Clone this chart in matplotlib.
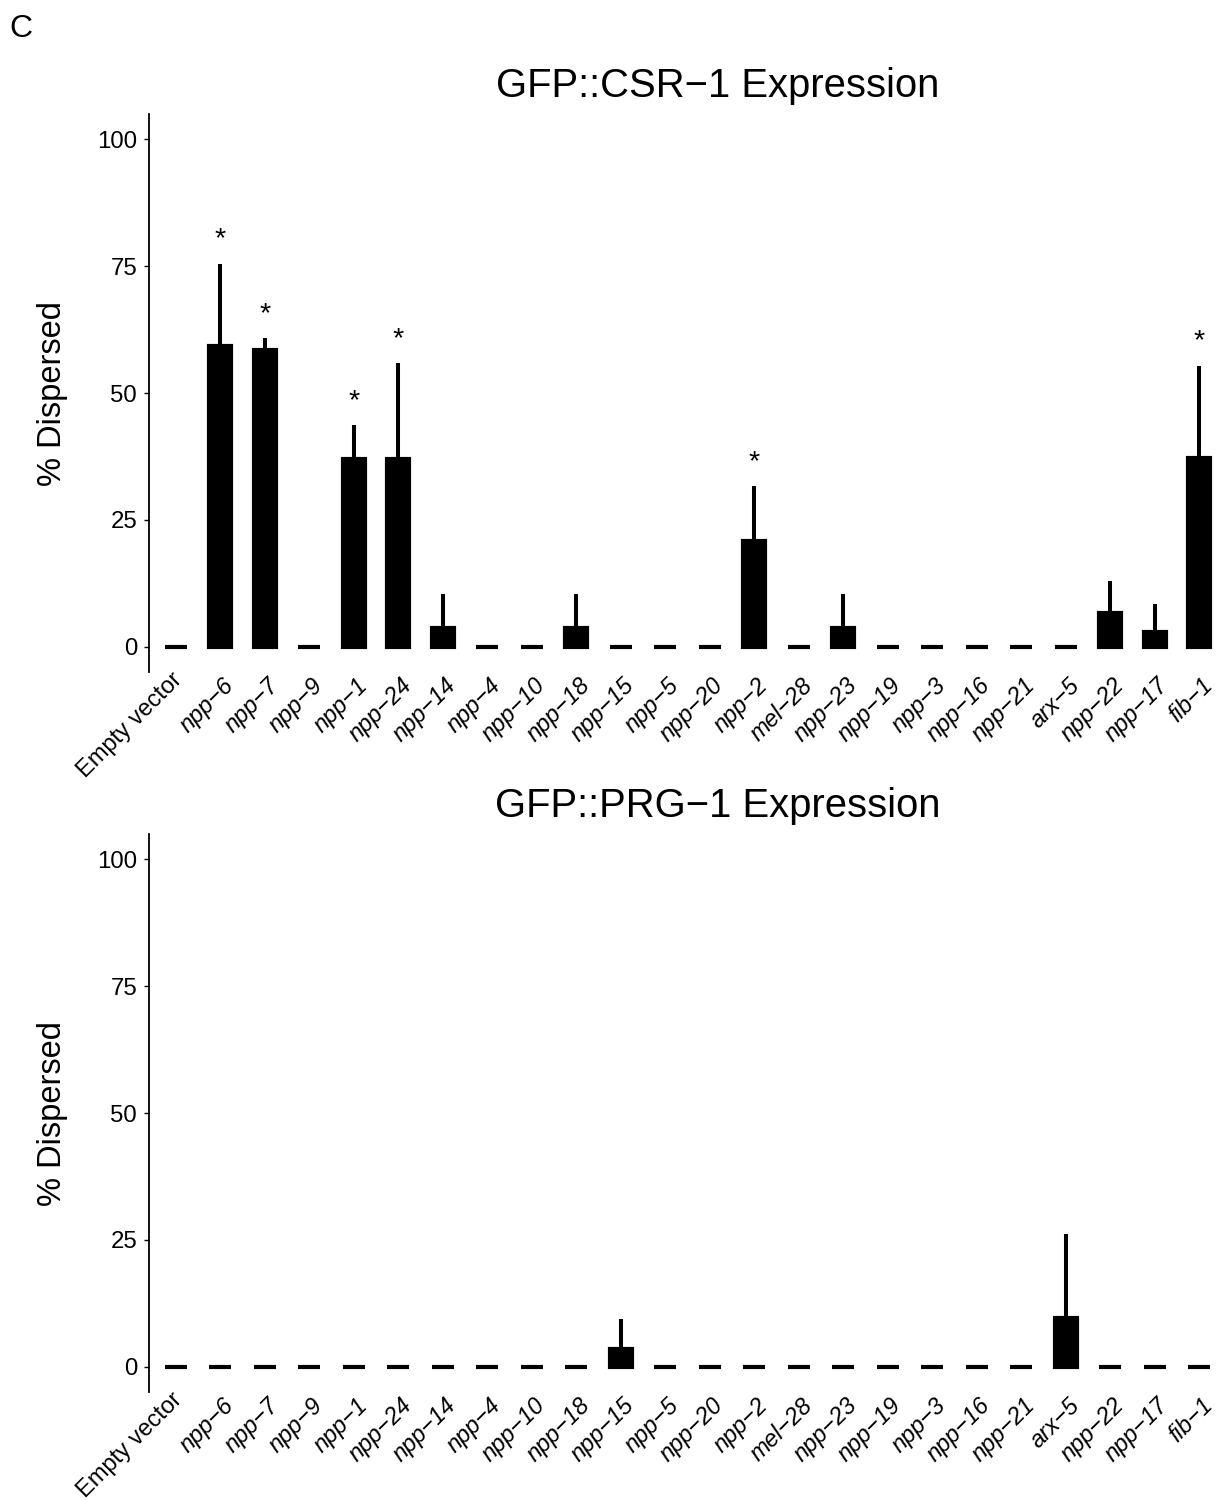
import matplotlib
matplotlib.use("Agg")
import matplotlib.pyplot as plt
import matplotlib.transforms as mtransforms
import numpy as np

plt.rcParams['font.family'] = ['Liberation Sans', 'DejaVu Sans']

categories = ["Empty vector", "npp\u22126", "npp\u22127", "npp\u22129", "npp\u22121", "npp\u221224",
              "npp\u221214", "npp\u22124", "npp\u221210", "npp\u221218", "npp\u221215", "npp\u22125",
              "npp\u221220", "npp\u22122", "mel\u221228", "npp\u221223", "npp\u221219", "npp\u22123",
              "npp\u221216", "npp\u221221", "arx\u22125", "npp\u221222", "npp\u221217", "fib\u22121"]

csr1_mean = [0, 59.2, 58.4, 0, 36.9, 36.9, 3.6, 0, 0, 3.6, 0, 0,
             0, 20.9, 0, 3.6, 0, 0, 0, 0, 0, 6.6, 2.9, 37.2]
csr1_upper = [0, 75.5, 60.8, 0, 43.6, 55.9, 10.3, 0, 0, 10.3, 0, 0,
              0, 31.6, 0, 10.3, 0, 0, 0, 0, 0, 12.9, 8.5, 55.4]
csr1_sig = [False, True, True, False, True, True, False, False, False, False, False, False,
            False, True, False, False, False, False, False, False, False, False, False, True]

prg1_mean = [0, 0, 0, 0, 0, 0, 0, 0, 0, 0, 3.4, 0,
             0, 0, 0, 0, 0, 0, 0, 0, 9.6, 0, 0, 0]
prg1_upper = [0, 0, 0, 0, 0, 0, 0, 0, 0, 0, 9.3, 0,
              0, 0, 0, 0, 0, 0, 0, 0, 26.1, 0, 0, 0]
prg1_sig = [False] * 24

yticks = [0, 25, 50, 75, 100]

titles = ["GFP::CSR\u22121 Expression", "GFP::PRG\u22121 Expression"]

W, H = 1218, 1500
fig = plt.figure(figsize=(W / 100, H / 100), dpi=100)

ax_left = 149 / W
ax_width = 1077 / W
ax_h = 558 / H
panels = [
    (1 - 672 / H, csr1_mean, csr1_upper, csr1_sig, titles[0], 96.7),
    (1 - 1392 / H, prg1_mean, prg1_upper, prg1_sig, titles[1], 816.7),
]

x = np.arange(len(categories))
for bottom, mean, upper, sig, title, title_base in panels:
    ax = fig.add_axes([ax_left, bottom, ax_width, ax_h])
    mean = np.array(mean, dtype=float)
    upper = np.array(upper, dtype=float)
    ax.bar(x, mean, width=0.5, color="black", edgecolor="black", linewidth=3.0, zorder=2)
    err = np.clip(upper - mean, 0, None)
    has = err > 0
    ax.errorbar(x[has], mean[has], yerr=[np.zeros(has.sum()), err[has]], fmt="none",
                ecolor="black", elinewidth=2.9, capsize=0, zorder=3)
    for xi, up, s in zip(x, upper, sig):
        if s:
            ax.text(xi, up + 3.4, "*", ha="center", va="baseline", fontsize=20.5)
    ax.set_xlim(-0.6, len(categories) - 0.4)
    ax.set_ylim(-5, 105)
    ax.set_yticks(yticks)
    ax.set_yticklabels([str(t) for t in yticks])
    ax.set_xticks(x)
    ax.set_xticklabels(categories, rotation=45, ha="right", va="top", rotation_mode="anchor")
    ax.tick_params(axis="x", length=0, pad=1.5, labelsize=17, colors="black")
    ax.tick_params(axis="y", length=3.6, width=1.0, pad=5, labelsize=17.3, colors="black")
    for i, lab in enumerate(ax.get_xticklabels()):
        if i == 0:
            lab.set_fontstyle("normal")
            lab.set_transform(lab.get_transform() +
                              mtransforms.ScaledTranslation(-5 / 100, 5 / 100, fig.dpi_scale_trans))
        else:
            lab.set_fontstyle("italic")
            lab.set_transform(lab.get_transform() +
                              mtransforms.ScaledTranslation(2 / 100, 0, fig.dpi_scale_trans))
    for sp in ["top", "right", "bottom"]:
        ax.spines[sp].set_visible(False)
    ax.spines["left"].set_linewidth(1.3)
    ax.patch.set_alpha(0)
    yc = bottom + ax_h / 2
    fig.text(52 / W, yc, "% Dispersed", rotation=90, ha="center", va="center", fontsize=23.5)
    fig.text(718 / W, 1 - title_base / H, title, ha="center", va="baseline", fontsize=28.8)

fig.text(9 / W, 1 - 37 / H, "C", ha="left", va="baseline", fontsize=23)

fig.savefig("out.png", dpi=100)
